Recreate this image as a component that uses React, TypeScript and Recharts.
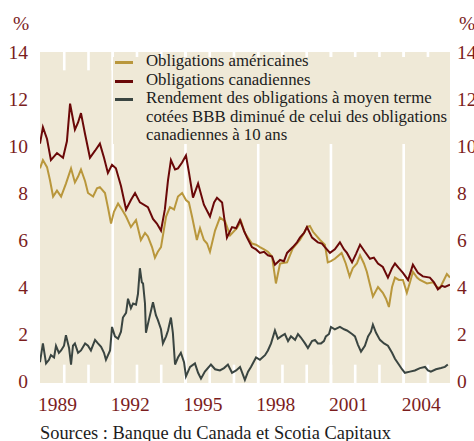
import React from 'react';
import { LineChart, Line, XAxis, YAxis, CartesianGrid, ReferenceLine } from 'recharts';

// ---------- data ----------
const usYears = [1989.0, 1989.12, 1989.29, 1989.41, 1989.54, 1989.7, 1989.87, 1990.07, 1990.28, 1990.44, 1990.57, 1990.69, 1990.86, 1990.98, 1991.19, 1991.35, 1991.47, 1991.68, 1991.8, 1991.93, 1992.05, 1992.22, 1992.38, 1992.55, 1992.75, 1992.96, 1993.16, 1993.33, 1993.45, 1993.62, 1993.74, 1993.86, 1993.99, 1994.2, 1994.36, 1994.53, 1994.69, 1994.86, 1995.02, 1995.14, 1995.27, 1995.47, 1995.6, 1995.76, 1995.89, 1996.01, 1996.22, 1996.42, 1996.63, 1996.84, 1997.12, 1997.29, 1997.45, 1997.74, 1997.91, 1998.07, 1998.24, 1998.4, 1998.57, 1998.73, 1998.9, 1999.19, 1999.43, 1999.72, 1999.89, 2000.01, 2000.13, 2000.26, 2000.55, 2000.75, 2000.87, 2001.0, 2001.16, 2001.44, 2001.61, 2001.77, 2001.9, 2002.07, 2002.2, 2002.36, 2002.48, 2002.61, 2002.73, 2002.94, 2003.14, 2003.27, 2003.39, 2003.52, 2003.64, 2003.8, 2003.97, 2004.13, 2004.26, 2004.38, 2004.55, 2004.67, 2004.96, 2005.21, 2005.37, 2005.49, 2005.66, 2005.78, 2005.91];
const usValues = [9.05, 9.4, 9.1, 8.55, 7.85, 8.1, 7.85, 8.4, 9.05, 8.45, 8.7, 9.0, 8.5, 8.0, 7.85, 8.2, 8.25, 8.0, 7.4, 6.7, 7.2, 7.55, 7.3, 7.0, 6.55, 6.85, 6.0, 6.3, 6.15, 5.7, 5.25, 5.5, 5.7, 7.0, 7.4, 7.3, 7.85, 8.0, 7.7, 7.6, 7.0, 6.0, 6.5, 6.0, 5.85, 5.5, 6.4, 6.95, 6.8, 6.2, 6.5, 6.8, 6.3, 5.85, 5.8, 5.7, 5.6, 5.5, 5.3, 4.15, 5.0, 5.05, 5.65, 6.0, 6.3, 6.55, 6.6, 6.35, 6.0, 5.8, 5.05, 5.1, 5.2, 5.45, 5.0, 4.45, 4.8, 5.0, 5.35, 5.0, 4.65, 4.1, 3.6, 4.0, 3.75, 3.5, 3.15, 4.0, 4.4, 4.3, 4.3, 3.75, 4.2, 4.65, 4.4, 4.3, 4.15, 4.2, 4.0, 3.95, 4.3, 4.55, 4.4];

const cadYears = [1989.0, 1989.12, 1989.29, 1989.45, 1989.7, 1989.95, 1990.11, 1990.24, 1990.44, 1990.57, 1990.69, 1990.86, 1991.06, 1991.27, 1991.47, 1991.64, 1991.8, 1991.97, 1992.13, 1992.34, 1992.55, 1992.75, 1992.92, 1993.12, 1993.45, 1993.66, 1993.82, 1993.99, 1994.15, 1994.28, 1994.4, 1994.57, 1994.69, 1994.86, 1995.02, 1995.14, 1995.31, 1995.52, 1995.76, 1996.01, 1996.18, 1996.3, 1996.51, 1996.71, 1996.92, 1997.09, 1997.25, 1997.41, 1997.54, 1997.74, 1997.91, 1998.07, 1998.24, 1998.4, 1998.57, 1998.69, 1998.9, 1999.06, 1999.19, 1999.43, 1999.6, 1999.72, 1999.89, 2000.01, 2000.22, 2000.46, 2000.63, 2000.75, 2000.96, 2001.16, 2001.37, 2001.54, 2001.66, 2001.87, 2002.03, 2002.2, 2002.4, 2002.61, 2002.77, 2002.94, 2003.14, 2003.35, 2003.52, 2003.64, 2003.8, 2003.97, 2004.18, 2004.38, 2004.59, 2004.79, 2005.08, 2005.25, 2005.41, 2005.58, 2005.7, 2005.91];
const cadValues = [10.1, 10.8, 10.3, 9.4, 9.7, 9.5, 10.2, 11.8, 10.7, 11.0, 11.4, 10.5, 9.5, 9.8, 10.1, 9.5, 8.85, 9.2, 9.05, 8.3, 7.3, 7.7, 8.0, 7.6, 7.4, 6.9, 6.7, 6.4, 7.3, 8.55, 9.4, 9.0, 9.05, 9.3, 9.6, 8.9, 7.8, 8.4, 7.5, 7.0, 7.6, 7.8, 7.6, 6.1, 6.55, 6.5, 6.85, 6.4, 6.1, 5.7, 5.6, 5.45, 5.5, 5.35, 5.3, 4.95, 5.15, 5.1, 5.45, 5.7, 5.9, 6.1, 6.3, 6.55, 6.1, 5.9, 5.85, 5.7, 5.45, 5.6, 5.9, 5.6, 5.45, 5.05, 5.4, 5.8, 5.5, 5.2, 5.25, 5.0, 4.85, 4.4, 4.8, 5.0, 4.8, 4.6, 4.3, 4.95, 4.6, 4.45, 4.4, 4.2, 3.9, 4.05, 4.0, 4.1];

const spreadYears = [1989.0, 1989.12, 1989.25, 1989.37, 1989.45, 1989.58, 1989.66, 1989.78, 1989.87, 1989.99, 1990.07, 1990.2, 1990.28, 1990.36, 1990.44, 1990.57, 1990.69, 1990.86, 1990.98, 1991.1, 1991.27, 1991.39, 1991.52, 1991.64, 1991.72, 1991.89, 1991.97, 1992.09, 1992.22, 1992.34, 1992.42, 1992.55, 1992.63, 1992.75, 1992.84, 1992.96, 1993.04, 1993.12, 1993.2, 1993.25, 1993.33, 1993.37, 1993.49, 1993.66, 1993.78, 1993.86, 1993.99, 1994.07, 1994.2, 1994.28, 1994.4, 1994.48, 1994.57, 1994.69, 1994.81, 1994.94, 1995.02, 1995.19, 1995.39, 1995.52, 1995.64, 1995.8, 1996.05, 1996.22, 1996.42, 1996.59, 1996.75, 1996.92, 1997.09, 1997.25, 1997.45, 1997.58, 1997.7, 1997.91, 1998.07, 1998.28, 1998.4, 1998.53, 1998.69, 1998.81, 1998.94, 1999.1, 1999.23, 1999.35, 1999.52, 1999.64, 1999.76, 1999.93, 2000.05, 2000.22, 2000.34, 2000.46, 2000.59, 2000.71, 2000.79, 2000.92, 2001.0, 2001.16, 2001.37, 2001.54, 2001.66, 2001.87, 2001.99, 2002.11, 2002.24, 2002.4, 2002.53, 2002.65, 2002.73, 2002.86, 2003.02, 2003.19, 2003.35, 2003.52, 2003.64, 2003.8, 2003.93, 2004.05, 2004.26, 2004.46, 2004.67, 2004.88, 2005.0, 2005.12, 2005.33, 2005.54, 2005.7, 2005.82];
const spreadValues = [0.8, 1.6, 0.75, 0.9, 1.1, 1.0, 1.5, 1.2, 1.3, 1.5, 1.95, 1.4, 0.7, 1.5, 1.6, 1.2, 1.3, 1.6, 1.5, 1.3, 1.75, 1.6, 1.45, 1.2, 0.9, 1.3, 2.3, 1.9, 1.8, 2.1, 2.7, 2.9, 3.5, 3.1, 3.3, 3.25, 3.7, 4.8, 4.2, 4.15, 3.3, 2.05, 2.6, 3.35, 2.8, 2.6, 2.2, 1.6, 1.9, 2.15, 2.7, 2.05, 0.7, 1.0, 1.2, 0.8, 0.2, 0.6, 0.75, 0.35, 0.1, 0.4, 0.7, 0.5, 0.45, 0.55, 0.7, 0.35, 0.45, 0.6, 0.05, 0.4, 0.6, 1.0, 0.9, 1.1, 1.3, 1.6, 2.15, 1.8, 1.9, 2.0, 1.7, 1.9, 1.75, 2.0, 1.85, 1.6, 1.4, 1.7, 1.75, 1.6, 1.6, 1.7, 1.9, 2.0, 2.3, 2.2, 2.3, 2.2, 2.15, 2.0, 1.9, 1.55, 1.25, 1.5, 1.9, 2.1, 2.4, 2.05, 1.75, 1.6, 1.5, 1.2, 0.95, 0.7, 0.5, 0.35, 0.4, 0.45, 0.55, 0.6, 0.45, 0.4, 0.5, 0.55, 0.6, 0.7];

const yTicks = [0, 2, 4, 6, 8, 10, 12, 14];
const gridValues = [2, 4, 6, 8, 10, 12];
const yearLabels = [1989, 1992, 1995, 1998, 2001, 2004];
const gridYears = [1992, 1995, 1998, 2001, 2004];
const minorYears = [1990, 1991, 1993, 1994, 1996, 1997, 1999, 2000, 2002, 2003, 2005];
const seriesNames = ['Obligations américaines', 'Obligations canadiennes'];
const spreadNameLines = [
  'Rendement des obligations à moyen terme',
  'cotées BBB diminué de celui des obligations',
  'canadiennes à 10 ans',
];
const unitLabel = '%';
const sourceText = 'Sources : Banque du Canada et Scotia Capitaux';

const X_MIN = 1989.0;
const X_MAX = 2005.91;
const Y_MIN = -0.085;
const Y_MAX = 14;
const TICK_LEN = 0.78;

const zip = (xs: number[], ys: number[]) => xs.map((t, i) => ({ t, v: ys[i] }));
const usData = zip(usYears, usValues);
const cadData = zip(cadYears, cadValues);
const spreadData = zip(spreadYears, spreadValues);

// ---------- styles ----------
const FONT = '"Liberation Serif", "Times New Roman", serif';
const AXIS_RED = '#7b1d1d';
const BG = '#efe9d7';
const GOLD = '#b9973c';
const DARKRED = '#6a0808';
const GREY = '#3a4541';
const TEXT = '#1c1c1c';

const XTick = (props: any) => {
  const { x, y, payload } = props;
  return (
    <text x={x - 2} y={y} dy="0.71em" textAnchor="start" fill={AXIS_RED} fontSize={19.5} fontFamily={FONT}>
      {payload.value}
    </text>
  );
};

export default function App() {
  return (
    <div style={{ position: 'absolute', left: 0, top: 0, width: 474, height: 441, overflow: 'hidden', background: '#fff' }}>
      <LineChart width={474} height={441} margin={{ top: 52, right: 0, bottom: 0, left: 0 }}>
        <CartesianGrid
          fill={BG}
          fillOpacity={1}
          stroke="#ffffff"
          strokeWidth={2.6}
          horizontalValues={gridValues}
          verticalValues={gridYears}
        />
        <XAxis
          dataKey="t"
          type="number"
          domain={[X_MIN, X_MAX]}
          ticks={yearLabels}
          tick={<XTick />}
          axisLine={false}
          tickLine={false}
          tickSize={0}
          tickMargin={14}
          height={58}
          allowDataOverflow
        />
        <YAxis
          yAxisId="left"
          orientation="left"
          type="number"
          domain={[Y_MIN, Y_MAX]}
          ticks={yTicks}
          axisLine={false}
          tickLine={false}
          tickSize={0}
          tickMargin={12}
          width={40}
          tick={{ fill: AXIS_RED, fontSize: 19.5, fontFamily: FONT }}
          allowDataOverflow
        />
        <YAxis
          yAxisId="right"
          orientation="right"
          type="number"
          domain={[Y_MIN, Y_MAX]}
          ticks={yTicks}
          axisLine={false}
          tickLine={false}
          tickSize={0}
          tickMargin={7}
          width={24}
          tick={{ fill: AXIS_RED, fontSize: 19.5, fontFamily: FONT, textAnchor: 'start' }}
          allowDataOverflow
        />
        {[...minorYears, ...gridYears].map((yr) => (
          <ReferenceLine
            key={'b' + yr}
            yAxisId="left"
            segment={[{ x: yr, y: Y_MIN }, { x: yr, y: Y_MIN + TICK_LEN }]}
            stroke="#ffffff"
            strokeWidth={2.6}
          />
        ))}
        {[...minorYears, ...gridYears].map((yr) => (
          <ReferenceLine
            key={'t' + yr}
            yAxisId="left"
            segment={[{ x: yr, y: Y_MAX }, { x: yr, y: Y_MAX - TICK_LEN }]}
            stroke="#ffffff"
            strokeWidth={2.6}
          />
        ))}
        <Line yAxisId="left" data={spreadData} dataKey="v" stroke={GREY} strokeWidth={2} dot={false} isAnimationActive={false} />
        <Line yAxisId="left" data={usData} dataKey="v" stroke={GOLD} strokeWidth={2} dot={false} isAnimationActive={false} />
        <Line yAxisId="left" data={cadData} dataKey="v" stroke={DARKRED} strokeWidth={2} dot={false} isAnimationActive={false} />
      </LineChart>

      {/* unit labels */}
      <div style={{ position: 'absolute', left: 13, top: 13, fontFamily: FONT, fontSize: 19.5, color: AXIS_RED }}>{unitLabel}</div>
      <div style={{ position: 'absolute', left: 459, top: 13, fontFamily: FONT, fontSize: 19.5, color: AXIS_RED }}>{unitLabel}</div>

      {/* legend */}
      <div
        style={{
          position: 'absolute',
          left: 113,
          top: 57,
          width: 326,
          height: 87,
          background: BG,
        }}
      />
      <div style={{ position: 'absolute', left: 115, top: 52, fontFamily: FONT, fontSize: 16.8, lineHeight: '18.5px', color: TEXT }}>
        {[
          { color: GOLD, lines: [seriesNames[0]] },
          { color: DARKRED, lines: [seriesNames[1]] },
          { color: GREY, lines: spreadNameLines },
        ].map((item, i) => (
          <div key={i} style={{ position: 'relative', paddingLeft: 31, whiteSpace: 'nowrap' }}>
            <span style={{ position: 'absolute', left: 0, top: 9, width: 18, height: 3, background: item.color }} />
            {item.lines.map((l, j) => (
              <div key={j}>{l}</div>
            ))}
          </div>
        ))}
      </div>

      {/* source */}
      <div style={{ position: 'absolute', left: 40, top: 423, fontFamily: FONT, fontSize: 18.4, color: TEXT, whiteSpace: 'nowrap' }}>
        {sourceText}
      </div>
    </div>
  );
}
